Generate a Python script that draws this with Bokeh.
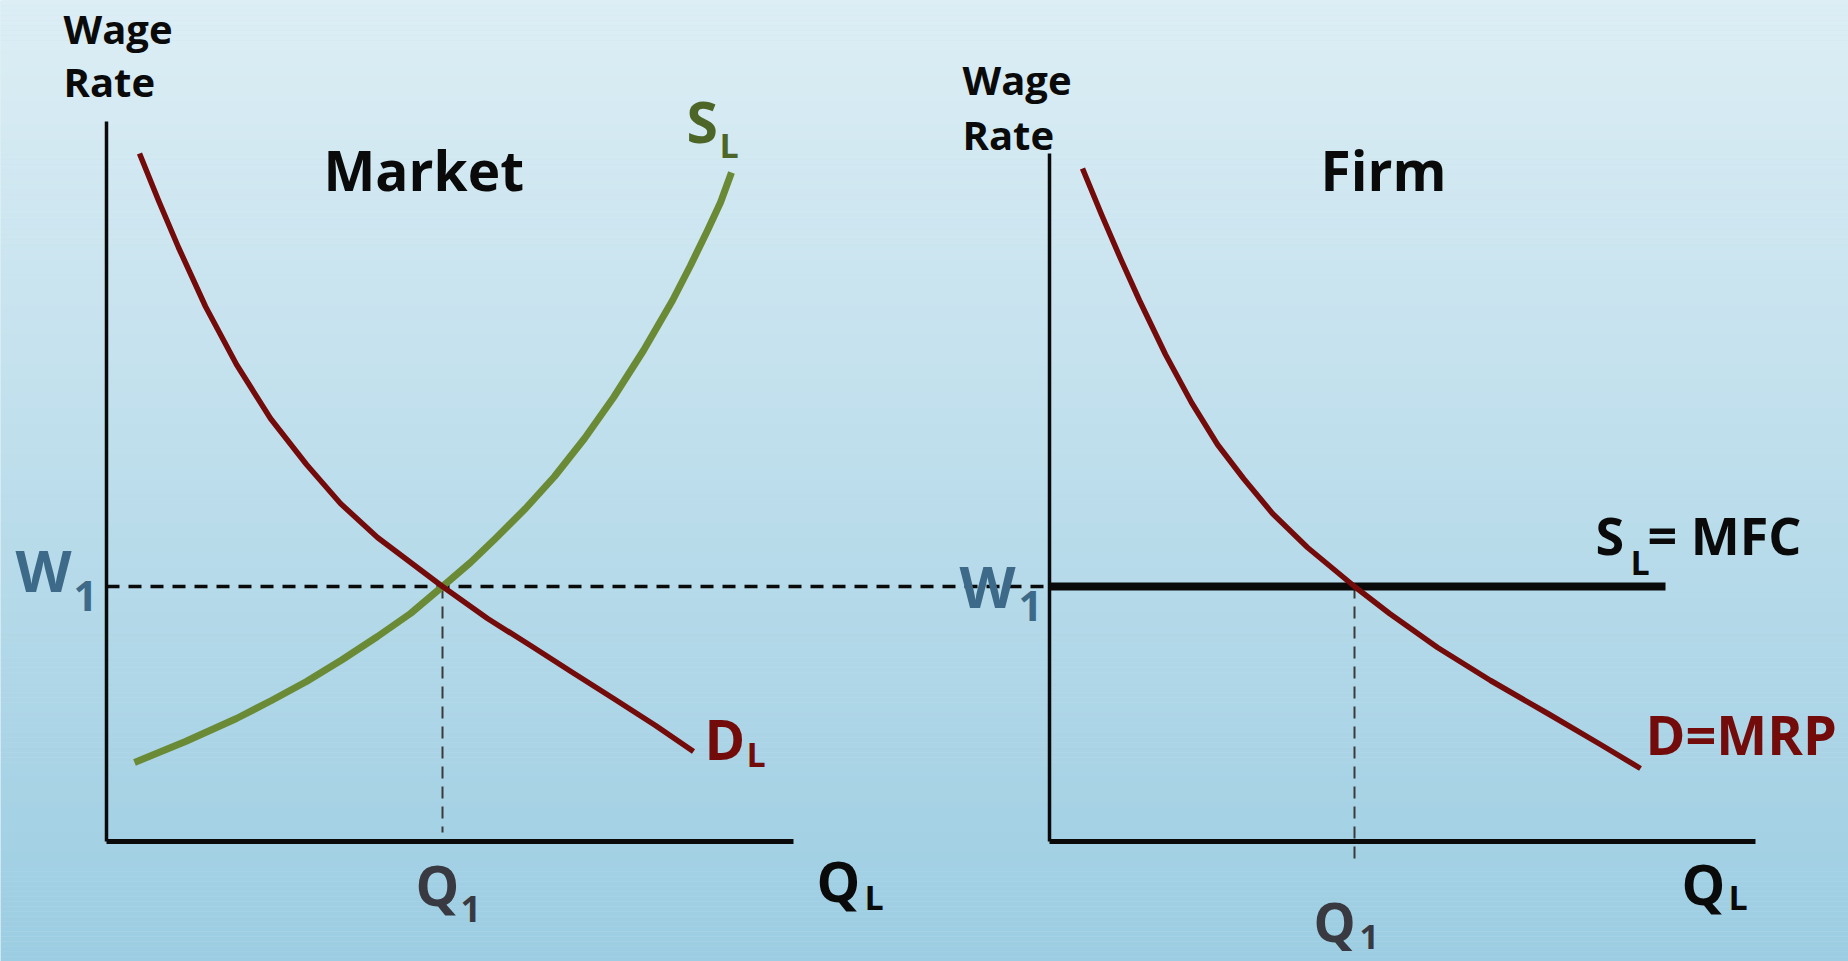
import numpy as np
from bokeh.plotting import figure
from bokeh.models import Range1d
from bokeh.core.properties import value
from bokeh.embed import file_html
from bokeh.resources import INLINE

# ---- data (panel units: Q = quantity of labour, W = wage rate) ----
market_demand_q = [3.3, 5.2, 7.2, 9.9, 13.0, 16.4, 20.0, 23.4, 27.1, 33.6, 38.1, 42.4, 46.6, 50.7, 54.9, 58.7]
market_demand_w = [68.8, 64.1, 59.4, 53.5, 47.7, 42.3, 37.7, 33.8, 30.4, 25.5, 22.3, 19.6, 16.9, 14.3, 11.6, 9.0]

market_supply_q = [2.8, 7.9, 13.0, 16.5, 20.0, 23.6, 27.1, 30.4, 33.6, 36.4, 38.9, 41.9, 44.8,
                   47.8, 50.7, 53.7, 56.6, 58.4, 60.1, 61.4, 62.5]
market_supply_w = [7.9, 10.0, 12.3, 14.1, 16.0, 18.2, 20.5, 22.8, 25.5, 27.9, 30.3, 33.3, 36.5,
                   40.3, 44.4, 49.1, 54.1, 57.6, 61.1, 63.9, 66.9]

firm_demand_q = [3.3, 5.2, 7.1, 9.0, 11.6, 14.2, 16.8, 19.4, 22.3, 25.8, 30.5, 34.0, 38.8,
                 44.1, 50.0, 55.1, 59.1]
firm_demand_w = [67.3, 62.7, 58.3, 54.1, 48.7, 43.9, 39.7, 36.3, 32.8, 29.4, 25.5, 22.8, 19.4,
                 16.1, 12.7, 9.7, 7.3]

wage_eq = 25.5          # W1
market_q_eq = 33.6      # Q1 in the market
firm_q_eq = 30.5        # Q1 for the firm
firm_mfc_end = 61.6     # extent of the S_L = MFC line

market_axis = {"q_max": 68.7, "w_max": 72.0}
firm_axis = {"q_max": 70.6, "w_max": 68.8}

# ---- layout ----
W_PX, H_PX = 1848, 961
MARKET_X0 = 10.6
FIRM_X0 = 104.9
BASE_Y = 12.0

FONT = value("Open Sans")
BLACK = "#0a0a0a"
DEMAND = "#730b0b"
SUPPLY_LINE = "#6a8a36"
SUPPLY_TEXT = "#4d6628"
W_TEXT = "#3e6a89"
Q_TEXT = "#393a41"

p = figure(width=W_PX, height=H_PX, output_backend="svg", toolbar_location=None,
           x_range=Range1d(0, W_PX / 10), y_range=Range1d(0, H_PX / 10),
           min_border=0, outline_line_color=None)
p.axis.visible = False
p.grid.visible = False
p.background_fill_color = "#bfe0ee"
p.border_fill_color = "#bfe0ee"

# vertical background gradient
bands = np.linspace(0, H_PX / 10, 194)
top = np.array([0xdd, 0xee, 0xf5], dtype=float)
bot = np.array([0x9c, 0xcd, 0xe2], dtype=float)
t = (bands[:-1] + bands[1:]) / 2 / (H_PX / 10)
cols = ["#%02x%02x%02x" % tuple(int(round(c)) for c in (bot + (top - bot) * ti)) for ti in t]
p.quad(left=0, right=W_PX / 10, bottom=bands[:-1], top=bands[1:] + 0.02,
       fill_color=cols, line_color=None)


def mx(q):
    return [MARKET_X0 + v for v in np.atleast_1d(q)]


def fx(q):
    return [FIRM_X0 + v for v in np.atleast_1d(q)]


def yy(w):
    return [BASE_Y + v for v in np.atleast_1d(w)]


# axes
p.line(mx([0, 0]), yy([0, market_axis["w_max"]]), line_color=BLACK, line_width=3.5)
p.line(mx([0, market_axis["q_max"]]), yy([0, 0]), line_color=BLACK, line_width=5)
p.line(fx([0, 0]), yy([0, firm_axis["w_max"]]), line_color=BLACK, line_width=3.5)
p.line(fx([0, firm_axis["q_max"]]), yy([0, 0]), line_color=BLACK, line_width=5)

# W1 dashed guide across both panels
p.line([MARKET_X0, FIRM_X0], yy([wage_eq, wage_eq]), line_color=BLACK,
       line_width=3.5, line_dash="13 9")
# Q1 dashed drops
p.line(mx([market_q_eq, market_q_eq]), yy([wage_eq, 0.9]), line_color="#3a3a3a",
       line_width=2, line_dash="12 8")
p.line(fx([firm_q_eq, firm_q_eq]), yy([wage_eq, -1.7]), line_color="#3a3a3a",
       line_width=2, line_dash="12 8")

# curves
p.line(mx(market_supply_q), yy(market_supply_w), line_color=SUPPLY_LINE, line_width=7,
       line_join="round")
p.line(mx(market_demand_q), yy(market_demand_w), line_color=DEMAND, line_width=5.5,
       line_join="round")
p.line(fx([0, firm_mfc_end]), yy([wage_eq, wage_eq]), line_color=BLACK, line_width=8)
p.line(fx(firm_demand_q), yy(firm_demand_w), line_color=DEMAND, line_width=5.5,
       line_join="round")


def label(x, y, txt, size, color):
    # y is the text baseline; lift by the renderer's baseline offset (~0.4 em)
    p.text(x=[x], y=[y + 0.04 * size], text=[txt], text_font=FONT, text_font_style="bold",
           text_font_size=f"{size}px", text_color=color, text_align="left",
           text_baseline="alphabetic")


# axis titles
label(6.3, 91.7, "Wage", 40, BLACK)
label(6.3, 86.4, "Rate", 40, BLACK)
label(96.2, 86.6, "Wage", 40, BLACK)
label(96.2, 81.1, "Rate", 40, BLACK)

# panel titles
label(32.3, 77.0, "Market", 55, BLACK)
label(132.0, 77.0, "Firm", 55, BLACK)

# W1 labels
label(1.5, 36.9, "W", 58, W_TEXT)
label(7.3, 34.9, "1", 42, W_TEXT)
label(95.9, 35.3, "W", 58, W_TEXT)
label(101.8, 33.9, "1", 42, W_TEXT)

# Q1 labels
label(41.5, 5.5, "Q", 55, Q_TEXT)
label(46.0, 3.8, "1", 36, Q_TEXT)
label(131.3, 1.9, "Q", 53, Q_TEXT)
label(135.9, 1.1, "1", 34, Q_TEXT)

# Q_L labels
label(81.6, 5.9, "Q", 55, BLACK)
label(86.4, 5.1, "L", 34, BLACK)
label(168.1, 5.6, "Q", 55, BLACK)
label(172.8, 5.1, "L", 34, BLACK)

# curve labels
label(68.6, 81.8, "S", 57, SUPPLY_TEXT)
label(71.9, 80.3, "L", 34, SUPPLY_TEXT)
label(70.4, 20.1, "D", 55, DEMAND)
label(74.6, 19.4, "L", 34, DEMAND)
label(159.5, 40.6, "S", 52, BLACK)
label(163.0, 38.6, "L", 34, BLACK)
label(164.7, 40.6, "= MFC", 52, BLACK)
label(164.5, 20.6, "D=MRP", 54, DEMAND)

open("out.html", "w").write(file_html(p, INLINE))
